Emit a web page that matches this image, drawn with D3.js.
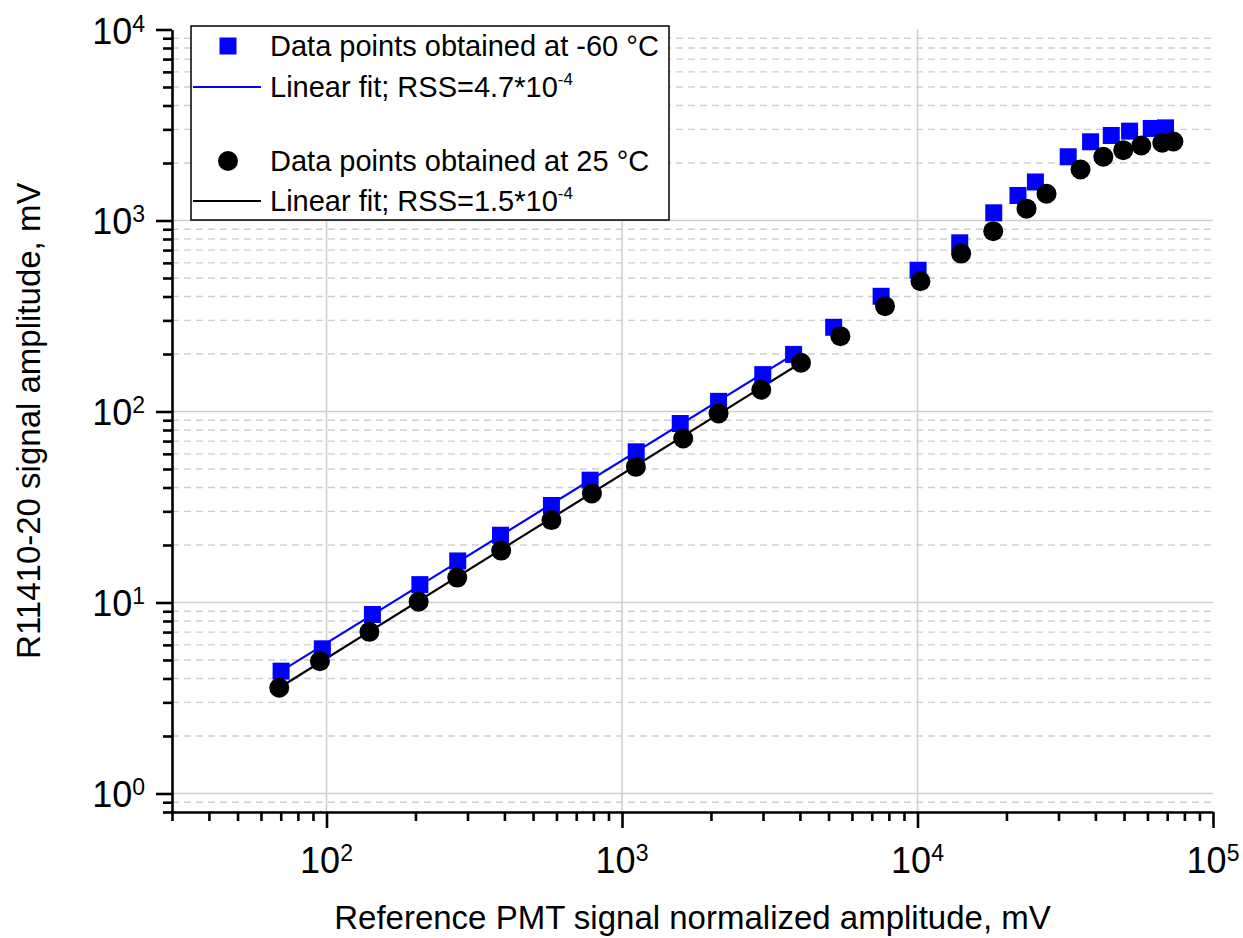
<!DOCTYPE html>
<html>
<head>
<meta charset="utf-8">
<script src="https://d3js.org/d3.v7.min.js"></script>
<style>
  body { margin: 0; background: #fff; }
  text { font-family: "Liberation Sans", Arial, sans-serif; fill: #000; }
</style>
</head>
<body>
<div id="chart"></div>
<script>
// Data (x: reference PMT mV, y: R11410-20 mV)
var xCold = [70.2, 96.8, 143, 207, 278, 388, 577, 780, 1117, 1574, 2122, 2995, 3808,
  5204, 7531, 10045, 13897, 18114, 21878, 25060, 32360, 38520, 45260, 52210, 61810, 69070];
var yCold = [4.37, 5.72, 8.65, 12.4, 16.5, 22.5, 32.2, 43.7, 61.5, 86.5, 113, 156, 199,
  276, 401, 549, 764, 1097, 1352, 1591, 2156, 2583, 2787, 2936, 3033, 3055];

var xWarm = [69.2, 95, 139.7, 205, 277, 390, 577, 791, 1114, 1611, 2122, 2960, 4034,
  5483, 7765, 10233, 14050, 18040, 23390, 27330, 35620, 42540, 49680, 57180, 67330, 73450];
var yWarm = [3.58, 4.93, 7.02, 10.1, 13.5, 18.7, 27.0, 37.2, 51.3, 72.2, 97.6, 130, 180,
  248, 356, 481, 671, 879, 1153, 1380, 1849, 2156, 2334, 2471, 2552, 2593];

// fit line end points
var fitColdX = [70.2, 3808];
var fitColdY = [4.37, 199];
var fitWarmX = [69.2, 4034];
var fitWarmY = [3.58, 180];

var xMajor = [100, 1000, 10000, 100000];
var yMajor = [1, 10, 100, 1000, 10000];

var legendLabels = [
  "Data points obtained at -60 °C",
  "Linear fit; RSS=4.7*10",
  "Data points obtained at 25 °C",
  "Linear fit; RSS=1.5*10"
];
var legendExp = ["", "-4", "", "-4"];

var svgWidth = 1243;
var svgHeight = 938;

var margin = { top: 29.5, right: 30, bottom: 126, left: 172 };
var width = svgWidth - margin.left - margin.right;
var height = svgHeight - margin.top - margin.bottom;

var svg = d3.select("#chart")
  .append("svg")
  .attr("width", svgWidth)
  .attr("height", svgHeight);

var chartGroup = svg.append("g")
  .attr("transform", `translate(${margin.left}, ${margin.top})`);

// Scales
var xScale = d3.scaleLog().domain([30, 1e5]).range([0, width]);
var yScale = d3.scaleLog().domain([0.8, 1e4]).range([height, 0]);

var xTicks = [];
[10, 100, 1000, 10000].forEach(function(d) {
  for (var k = 1; k < 10; k++) {
    var v = d * k;
    if (v >= 30 && v <= 1e5) xTicks.push(v);
  }
});
xTicks.push(1e5);

var yTicks = [];
[0.1, 1, 10, 100, 1000].forEach(function(d) {
  for (var k = 1; k < 10; k++) {
    var v = d * k;
    if (v >= 0.8 && v <= 1e4) yTicks.push(v);
  }
});
yTicks.push(1e4);

function isMajor(v) {
  return Math.abs(Math.log10(v) - Math.round(Math.log10(v))) < 1e-9;
}

// Grid lines
var grid = chartGroup.append("g");
grid.selectAll(".hminor")
  .data(yTicks.filter(function(d) { return !isMajor(d); }))
  .enter()
  .append("line")
  .attr("x1", 0).attr("x2", width)
  .attr("y1", d => yScale(d)).attr("y2", d => yScale(d))
  .attr("stroke", "#cfcfcf")
  .attr("stroke-width", 1.4)
  .attr("stroke-dasharray", "7,5");

grid.selectAll(".hmajor")
  .data([1, 10, 100, 1000])
  .enter()
  .append("line")
  .attr("x1", 0).attr("x2", width)
  .attr("y1", d => yScale(d)).attr("y2", d => yScale(d))
  .attr("stroke", "#cfcfcf")
  .attr("stroke-width", 1.6);

grid.selectAll(".vmajor")
  .data([100, 1000, 10000])
  .enter()
  .append("line")
  .attr("x1", d => xScale(d)).attr("x2", d => xScale(d))
  .attr("y1", 0).attr("y2", height)
  .attr("stroke", "#cfcfcf")
  .attr("stroke-width", 1.6);

// Axes
var bottomAxis = d3.axisBottom(xScale).tickValues(xTicks).tickFormat("").tickSizeOuter(0);
var leftAxis = d3.axisLeft(yScale).tickValues(yTicks).tickFormat("").tickSizeOuter(0);

var gx = chartGroup.append("g")
  .attr("transform", `translate(0, ${height})`)
  .call(bottomAxis);
gx.selectAll(".tick line")
  .attr("y2", d => isMajor(d) ? 16 : 9);

var gy = chartGroup.append("g")
  .call(leftAxis);
gy.selectAll(".tick line")
  .attr("x2", d => isMajor(d) ? -16 : -9);

[gx, gy].forEach(function(g) {
  g.select(".domain").attr("stroke", "#000").attr("stroke-width", 2.6);
  g.selectAll(".tick line").attr("stroke", "#000").attr("stroke-width", 2.6);
});

// Tick labels 10^n
xMajor.forEach(function(v) {
  var t = chartGroup.append("text")
    .attr("x", xScale(v))
    .attr("y", height + 61)
    .attr("text-anchor", "middle")
    .style("font-size", "36px");
  t.append("tspan").text("10");
  t.append("tspan").attr("dy", -12).style("font-size", "23px").text(Math.round(Math.log10(v)));
});

yMajor.forEach(function(v) {
  var t = chartGroup.append("text")
    .attr("x", -27)
    .attr("y", yScale(v) + 14)
    .attr("text-anchor", "end")
    .style("font-size", "36px");
  t.append("tspan").text("10");
  t.append("tspan").attr("dy", -12).style("font-size", "23px").text(Math.round(Math.log10(v)));
});

// Fit lines
var line = d3.line()
  .x(d => xScale(d[0]))
  .y(d => yScale(d[1]));

chartGroup.append("path")
  .datum(d3.zip(fitColdX, fitColdY))
  .attr("d", line)
  .attr("fill", "none")
  .attr("stroke", "#0000ff")
  .attr("stroke-width", 2.2);

chartGroup.append("path")
  .datum(d3.zip(fitWarmX, fitWarmY))
  .attr("d", line)
  .attr("fill", "none")
  .attr("stroke", "#000")
  .attr("stroke-width", 2.2);

// Markers
var sq = 17;
chartGroup.selectAll(".cold")
  .data(d3.zip(xCold, yCold))
  .enter()
  .append("rect")
  .attr("x", d => xScale(d[0]) - sq / 2)
  .attr("y", d => yScale(d[1]) - sq / 2)
  .attr("width", sq)
  .attr("height", sq)
  .attr("fill", "#0000ff");

chartGroup.selectAll(".warm")
  .data(d3.zip(xWarm, yWarm))
  .enter()
  .append("circle")
  .attr("cx", d => xScale(d[0]))
  .attr("cy", d => yScale(d[1]))
  .attr("r", 10)
  .attr("fill", "#000");

// Legend
var legend = svg.append("g");
legend.append("rect")
  .attr("x", 191).attr("y", 26)
  .attr("width", 478).attr("height", 194)
  .attr("fill", "#fff")
  .attr("stroke", "#000")
  .attr("stroke-width", 1.5);

var rowY = [46, 87, 161, 201];
legend.append("rect")
  .attr("x", 228 - sq / 2).attr("y", rowY[0] - sq / 2)
  .attr("width", sq).attr("height", sq)
  .attr("fill", "#0000ff");
legend.append("line")
  .attr("x1", 193).attr("x2", 261)
  .attr("y1", rowY[1]).attr("y2", rowY[1])
  .attr("stroke", "#0000ff").attr("stroke-width", 2.2);
legend.append("circle")
  .attr("cx", 228).attr("cy", rowY[2]).attr("r", 10)
  .attr("fill", "#000");
legend.append("line")
  .attr("x1", 193).attr("x2", 261)
  .attr("y1", rowY[3]).attr("y2", rowY[3])
  .attr("stroke", "#000").attr("stroke-width", 2.2);

legendLabels.forEach(function(lab, i) {
  var t = legend.append("text")
    .attr("x", 270)
    .attr("y", rowY[i] + 10)
    .style("font-size", "29px");
  t.append("tspan").text(lab);
  if (legendExp[i]) {
    t.append("tspan").attr("dy", -12).style("font-size", "17px").text(legendExp[i]);
  }
});

// Axis titles
svg.append("text")
  .attr("x", margin.left + width / 2)
  .attr("y", 929)
  .attr("text-anchor", "middle")
  .style("font-size", "33px")
  .text("Reference PMT signal normalized amplitude, mV");

svg.append("text")
  .attr("transform", `translate(40, ${margin.top + height / 2}) rotate(-90)`)
  .attr("text-anchor", "middle")
  .style("font-size", "33px")
  .text("R11410-20 signal amplitude, mV");
</script>
</body>
</html>
